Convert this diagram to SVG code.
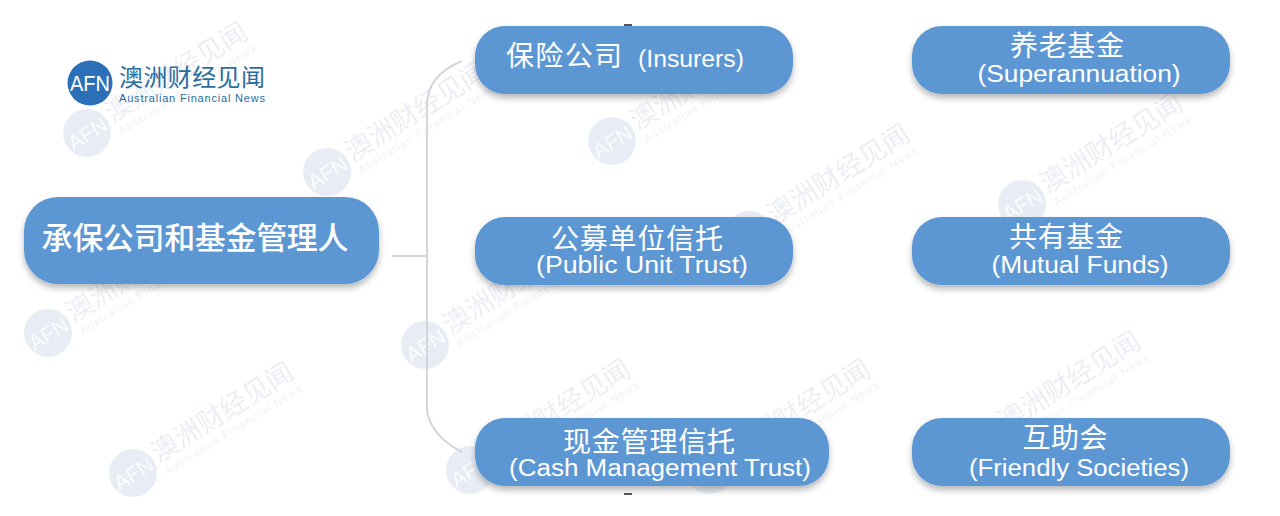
<svg xmlns="http://www.w3.org/2000/svg" width="1280" height="516" viewBox="0 0 1280 516">
<style>
.cjk{font-family:"Noto Sans CJK SC","Liberation Sans",sans-serif}
.lat{font-family:"Liberation Sans","Noto Sans CJK SC",sans-serif}
.box{fill:#5b97d3;filter:url(#sh)}
.t{fill:#fff;text-anchor:middle}
.zh{font-size:28px;font-family:"Noto Sans CJK SC",sans-serif}
.en{font-size:23px;font-family:"Liberation Sans","Noto Sans CJK SC",sans-serif}
.line{fill:none;stroke:#d5d5da;stroke-width:2}
</style>
<defs>
<filter id="sh" x="-10%" y="-20%" width="120%" height="150%">
<feDropShadow dx="0" dy="4" stdDeviation="3" flood-color="#000" flood-opacity="0.28"/>
</filter>
<g id="wm" opacity="0.9">
<circle cx="0" cy="0" r="24" fill="#e6ecf4"/>
<g transform="rotate(-32)">
<text x="0" y="8" text-anchor="middle" font-size="21" fill="#fbfcfe" class="lat" textLength="42" lengthAdjust="spacingAndGlyphs">AFN</text>
<text x="27" y="5" font-size="27" fill="#e9edf3" class="cjk">澳洲财经见闻</text>
<text x="28" y="20" font-size="11" fill="#eceff4" class="lat" textLength="160">Australian Financial News</text>
</g>
</g>
</defs>
<rect width="1280" height="516" fill="#fff"/>
<g id="watermarks">
<use href="#wm" x="87" y="133"/>
<use href="#wm" x="327" y="172"/>
<use href="#wm" x="612" y="141"/>
<use href="#wm" x="749" y="235"/>
<use href="#wm" x="1022" y="204"/>
<use href="#wm" x="48" y="333"/>
<use href="#wm" x="425" y="345"/>
<use href="#wm" x="133" y="473"/>
<use href="#wm" x="470" y="470"/>
<use href="#wm" x="710" y="470"/>
<use href="#wm" x="980" y="442"/>
</g>
<g id="connectors">
<path class="line" d="M392 256H427"/>
<path class="line" d="M462 61C440 70 427 85 427 105V408C427 425 442 442 462 452"/>
<path d="M624 25h8M624 494h8" stroke="#222" stroke-width="1.5"/>
</g>
<g id="logo">
<circle cx="90" cy="83" r="22.5" fill="#2a6fb7"/>
<text x="90" y="91" text-anchor="middle" font-size="22" fill="#fff" class="lat" textLength="40" lengthAdjust="spacingAndGlyphs">AFN</text>
<text x="119" y="86" font-size="24" fill="#2b6c9f" class="cjk" textLength="146">澳洲财经见闻</text>
<text x="119" y="102" font-size="11" fill="#2b6c9f" class="lat" textLength="146">Australian Financial News</text>
</g>
<g id="node-root">
<rect class="box" x="24" y="197" width="355" height="87" rx="34"/>
<text class="t zh" x="195" y="249" style="font-size:31px;font-weight:500" textLength="307">承保公司和基金管理人</text>
</g>
<g id="node-insurers">
<rect class="box" x="475" y="26" width="318" height="68" rx="30"/>
<text class="t zh" x="564" y="66" textLength="116">保险公司</text>
<text class="t en" x="691" y="67" textLength="106" lengthAdjust="spacingAndGlyphs">(Insurers)</text>
</g>
<g id="node-public">
<rect class="box" x="475" y="217" width="318" height="68" rx="30"/>
<text class="t zh" x="637" y="249" textLength="172">公募单位信托</text>
<text class="t en" x="642" y="273" textLength="212" lengthAdjust="spacingAndGlyphs">(Public Unit Trust)</text>
</g>
<g id="node-cash">
<rect class="box" x="475" y="418" width="354" height="68" rx="30"/>
<text class="t zh" x="649" y="452" textLength="172">现金管理信托</text>
<text class="t en" x="660" y="476" textLength="302" lengthAdjust="spacingAndGlyphs">(Cash Management Trust)</text>
</g>
<g id="node-super">
<rect class="box" x="912" y="26" width="318" height="68" rx="30"/>
<text class="t zh" x="1067" y="56" textLength="114">养老基金</text>
<text class="t en" x="1079" y="82" textLength="203" lengthAdjust="spacingAndGlyphs">(Superannuation)</text>
</g>
<g id="node-mutual">
<rect class="box" x="912" y="217" width="318" height="68" rx="30"/>
<text class="t zh" x="1066" y="247" textLength="114">共有基金</text>
<text class="t en" x="1080" y="273" textLength="177" lengthAdjust="spacingAndGlyphs">(Mutual Funds)</text>
</g>
<g id="node-friendly">
<rect class="box" x="912" y="418" width="318" height="68" rx="30"/>
<text class="t zh" x="1065" y="448" textLength="85">互助会</text>
<text class="t en" x="1079" y="476" textLength="220" lengthAdjust="spacingAndGlyphs">(Friendly Societies)</text>
</g>
</svg>
